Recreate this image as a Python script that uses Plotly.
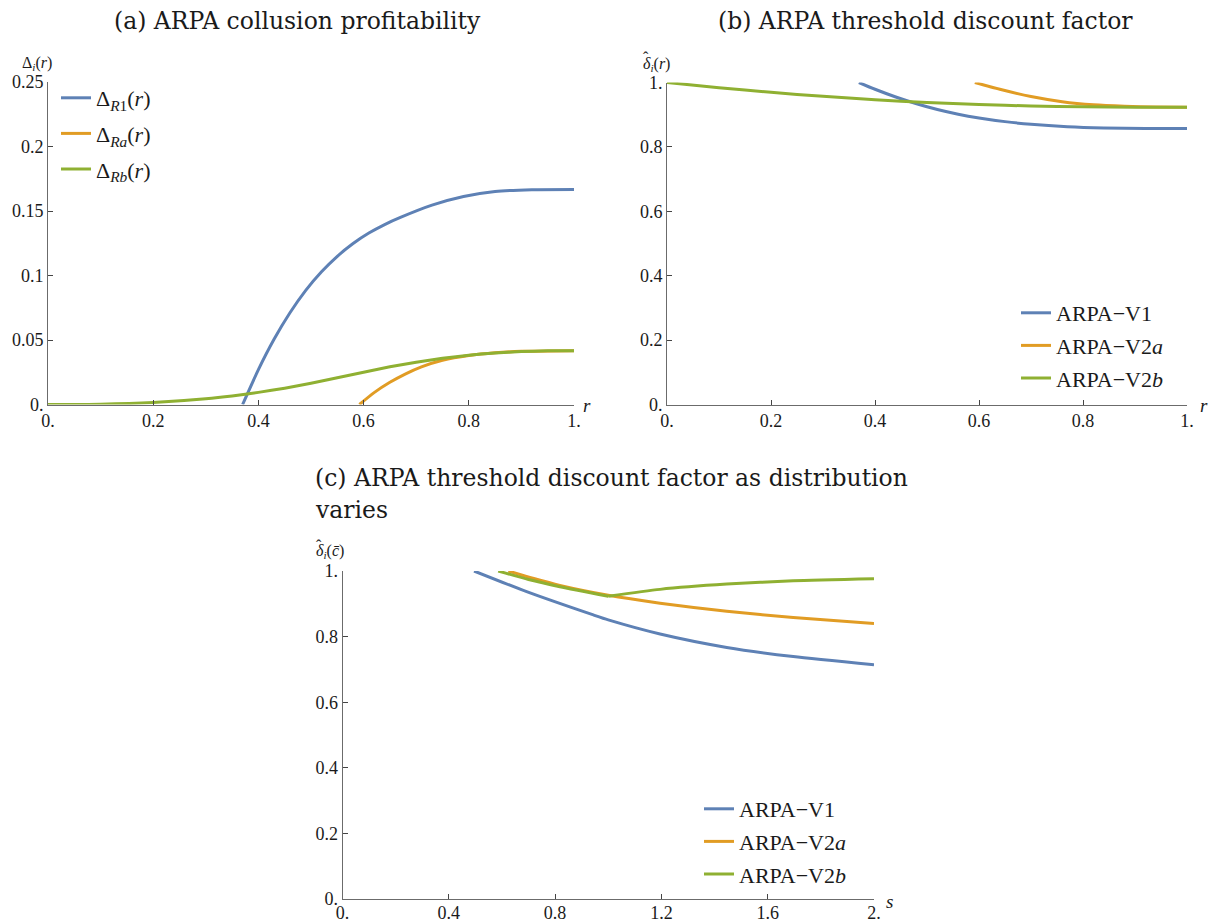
import plotly.graph_objects as go

W, H = 1209, 923

# ---- (a) collusion profitability Δ_i(r) ----
r_a_R1 = [0.37, 0.40, 0.43, 0.46, 0.49, 0.52, 0.55, 0.58, 0.61, 0.64, 0.67,
          0.73, 0.79, 0.85, 0.92, 1.0]
d_a_R1 = [0.0, 0.0270, 0.0507, 0.0711, 0.0885, 0.1029, 0.1149, 0.1248, 0.1329, 0.1395,
          0.1450, 0.1545, 0.1612, 0.1651, 0.1665, 0.1667]
r_a_Ra = [0.592, 0.62, 0.65, 0.68, 0.71, 0.75, 0.80, 0.85, 0.90, 1.0]
d_a_Ra = [0.0, 0.0092, 0.0172, 0.0238, 0.0292, 0.0343, 0.0380, 0.0401, 0.0412, 0.0417]
r_a_Rb = [0.0, 0.1, 0.2, 0.3, 0.35, 0.4, 0.45, 0.5, 0.55, 0.6, 0.65, 0.7,
          0.75, 0.8, 0.85, 0.9, 0.95, 1.0]
d_a_Rb = [0.0, 0.0002, 0.0015, 0.0044, 0.0066, 0.0094, 0.0126, 0.0164, 0.0207, 0.0250,
          0.0292, 0.0328, 0.0358, 0.0382, 0.0399, 0.0410, 0.0416, 0.0417]

# ---- (b) threshold discount factor δ̂_i(r) ----
r_b_V1 = [0.369, 0.40, 0.44, 0.48, 0.52, 0.56, 0.60, 0.65, 0.70, 0.77, 0.84, 0.92, 1.0]
d_b_V1 = [1.0, 0.979, 0.955, 0.934, 0.916, 0.9015, 0.890, 0.8785, 0.870, 0.8625,
          0.8588, 0.8572, 0.857]
r_b_V2a = [0.592, 0.64, 0.70, 0.76, 0.82, 0.88, 0.94, 1.0]
d_b_V2a = [1.0, 0.979, 0.9565, 0.9405, 0.9307, 0.926, 0.9237, 0.923]
r_b_V2b = [0.0, 0.1, 0.2, 0.3, 0.4, 0.5, 0.6, 0.7, 0.8, 0.9, 1.0]
d_b_V2b = [1.0, 0.984, 0.9695, 0.957, 0.9465, 0.938, 0.9315, 0.927, 0.9245, 0.9233, 0.923]

# ---- (c) threshold discount factor as the distribution varies, δ̂_i(c̄) ----
s_c_V1 = [0.495, 0.693, 0.944, 1.0, 1.195, 1.446, 1.696, 2.0]
d_c_V1 = [1.0, 0.937, 0.866, 0.851, 0.808, 0.767, 0.739, 0.714]
s_c_V2a = [0.624, 0.72, 0.818, 1.0, 1.195, 1.446, 1.696, 2.0]
d_c_V2a = [1.0, 0.977, 0.956, 0.926, 0.902, 0.877, 0.858, 0.840]
s_c_V2b = [0.586, 0.70, 0.818, 1.0, 1.195, 1.446, 1.696, 2.0]
d_c_V2b = [1.0, 0.974, 0.952, 0.923, 0.944, 0.960, 0.970, 0.976]
kink_c = 1.0  # V2b switches regime at s = 1

# tick labels
ticks_a_x = [0, 0.2, 0.4, 0.6, 0.8, 1.0]
ticks_a_x_txt = ["0.", "0.2", "0.4", "0.6", "0.8", "1."]
ticks_a_y = [0, 0.05, 0.1, 0.15, 0.2, 0.25]
ticks_a_y_txt = ["0.", "0.05", "0.1", "0.15", "0.2", "0.25"]
ticks_b_y = [0, 0.2, 0.4, 0.6, 0.8, 1.0]
ticks_b_y_txt = ["0.", "0.2", "0.4", "0.6", "0.8", "1."]
ticks_c_x = [0, 0.4, 0.8, 1.2, 1.6, 2.0]
ticks_c_x_txt = ["0.", "0.4", "0.8", "1.2", "1.6", "2."]

names_a = ["Δ<sub><i>R</i>1</sub>(<i>r</i>)",
           "Δ<sub><i>Ra</i></sub>(<i>r</i>)",
           "Δ<sub><i>Rb</i></sub>(<i>r</i>)"]
names_bc = ["ARPA−V1", "ARPA−V2<i>a</i>", "ARPA−V2<i>b</i>"]

BLUE, ORANGE, GREEN = "#5E81B5", "#E19C24", "#8FB032"
SERIF = "Liberation Serif, Tinos, Times New Roman, serif"
TITLE_SERIF = "DejaVu Serif, serif"
INK = "#1a1a1a"
LW = 3


def px(x):
    """pixel column -> paper x"""
    return x / W


def py(y):
    """pixel row -> paper y"""
    return 1 - y / H


fig = go.Figure()


def line(x, y, color, name, xa, ya, legend, group, show=True):
    fig.add_trace(go.Scatter(
        x=x, y=y, mode="lines", name=name,
        line=dict(color=color, width=LW, shape="spline", smoothing=0.6),
        xaxis=xa, yaxis=ya, legend=legend, legendgroup=group,
        showlegend=show, cliponaxis=False, hoverinfo="skip"))


# panel (a)
line(r_a_R1, d_a_R1, BLUE, names_a[0], "x", "y", "legend", "a1")
line(r_a_Ra, d_a_Ra, ORANGE, names_a[1], "x", "y", "legend", "a2")
line(r_a_Rb, d_a_Rb, GREEN, names_a[2], "x", "y", "legend", "a3")

# panel (b)
line(r_b_V1, d_b_V1, BLUE, names_bc[0], "x2", "y2", "legend2", "b1")
line(r_b_V2a, d_b_V2a, ORANGE, names_bc[1], "x2", "y2", "legend2", "b2")
line(r_b_V2b, d_b_V2b, GREEN, names_bc[2], "x2", "y2", "legend2", "b3")

# panel (c)
line(s_c_V1, d_c_V1, BLUE, names_bc[0], "x3", "y3", "legend3", "c1")
line(s_c_V2a, d_c_V2a, ORANGE, names_bc[1], "x3", "y3", "legend3", "c2")
k = s_c_V2b.index(kink_c)
line(s_c_V2b[:k + 1], d_c_V2b[:k + 1], GREEN, names_bc[2], "x3", "y3", "legend3", "c3")
line(s_c_V2b[k:], d_c_V2b[k:], GREEN, names_bc[2], "x3", "y3", "legend3", "c3", show=False)

axis_common = dict(
    showline=True, linecolor="#6b6b6b", linewidth=1,
    ticks="inside", ticklen=5, tickwidth=1, tickcolor="#444444",
    showgrid=False, zeroline=False, automargin=False,
    tickfont=dict(family=SERIF, size=18, color=INK),
    fixedrange=True,
)

fig.update_layout(
    template="none",
    width=W, height=H, margin=dict(l=0, r=0, t=0, b=0, autoexpand=False),
    paper_bgcolor="white", plot_bgcolor="white",
    xaxis=dict(domain=[px(48), px(574)], range=[0, 1], anchor="y",
               tickvals=ticks_a_x, ticktext=ticks_a_x_txt, **axis_common),
    yaxis=dict(domain=[py(404.5), py(82)], range=[0, 0.25], anchor="x",
               tickvals=ticks_a_y, ticktext=ticks_a_y_txt, **axis_common),
    xaxis2=dict(domain=[px(667), px(1187)], range=[0, 1], anchor="y2",
                tickvals=ticks_a_x, ticktext=ticks_a_x_txt, **axis_common),
    yaxis2=dict(domain=[py(404.5), py(82.5)], range=[0, 1], anchor="x2",
                tickvals=ticks_b_y, ticktext=ticks_b_y_txt, **axis_common),
    xaxis3=dict(domain=[px(342.5), px(874)], range=[0, 2], anchor="y3",
                tickvals=ticks_c_x, ticktext=ticks_c_x_txt,
                ticklabelstandoff=-3, **axis_common),
    yaxis3=dict(domain=[py(899), py(571)], range=[0, 1], anchor="x3",
                tickvals=ticks_b_y, ticktext=ticks_b_y_txt, **axis_common),
)

legend_common = dict(
    bgcolor="rgba(0,0,0,0)", borderwidth=0, xanchor="left", yanchor="top",
    font=dict(family=SERIF, size=22, color=INK),
    itemclick=False, itemdoubleclick=False,
)
fig.update_layout(
    legend=dict(x=px(56), y=py(77), tracegroupgap=4, **legend_common),
    legend2=dict(x=px(1016), y=py(292), tracegroupgap=1, **legend_common),
    legend3=dict(x=px(699), y=py(788), tracegroupgap=1, **legend_common),
)

title_font = dict(family=TITLE_SERIF, size=23.5, color=INK)
label_font = dict(family=SERIF, size=19, color=INK)
small_font = dict(family=SERIF, size=16, color=INK)
annotations = [
    dict(text="(a) ARPA collusion profitability", x=px(297), y=py(21),
         xanchor="center", yanchor="middle", font=title_font),
    dict(text="(b) ARPA threshold discount factor", x=px(925), y=py(21),
         xanchor="center", yanchor="middle", font=title_font),
    dict(text="(c) ARPA threshold discount factor as distribution", x=px(313), y=py(478),
         xanchor="left", yanchor="middle", font=title_font),
    dict(text="varies", x=px(313), y=py(510),
         xanchor="left", yanchor="middle", font=title_font),
    # axis labels
    dict(text="Δ<sub><i>i</i></sub>(<i>r</i>)", x=px(37), y=py(63),
         xanchor="center", yanchor="middle", font=small_font),
    dict(text="<i>r</i>", x=px(587), y=py(405),
         xanchor="center", yanchor="middle", font=label_font),
    dict(text="<i>δ</i><sub><i>i</i></sub>(<i>r</i>)", x=px(656), y=py(64),
         xanchor="center", yanchor="middle", font=small_font),
    dict(text="ˆ", x=px(646), y=py(58),
         xanchor="center", yanchor="middle", font=small_font),
    dict(text="<i>r</i>", x=px(1204), y=py(405),
         xanchor="center", yanchor="middle", font=label_font),
    dict(text="<i>δ</i><sub><i>i</i></sub>(<i>c̄</i>)", x=px(330), y=py(551),
         xanchor="center", yanchor="middle", font=small_font),
    dict(text="ˆ", x=px(319), y=py(545),
         xanchor="center", yanchor="middle", font=small_font),
    dict(text="<i>s</i>", x=px(890), y=py(901),
         xanchor="center", yanchor="middle", font=label_font),
]
for a in annotations:
    a.update(xref="paper", yref="paper", showarrow=False)
fig.update_layout(annotations=annotations)

# the figure fills the page exactly: drop the default body margin and scrollbars
page_css = ("document.body.style.margin='0';"
            "document.body.style.overflow='hidden';"
            "document.documentElement.style.overflow='hidden';")
fig.write_html("out.html", post_script=page_css)
